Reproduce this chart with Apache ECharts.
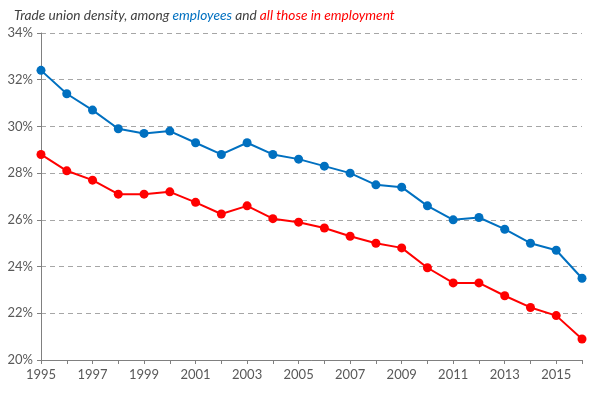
<!DOCTYPE html>
<html lang="en">
<head>
    <meta charset="UTF-8">
    <title>Trade union density</title>
    <script src="https://cdn.jsdelivr.net/npm/echarts@6/dist/echarts.min.js"></script>
    <style>
        * { margin: 0; padding: 0; }
        body { background-color: #fff; }
        #box1 { width: 605px; height: 397px; }
    </style>
</head>
<body>
    <div id="box1"></div>
    <script>
        // data
        var years = ['1995', '1996', '1997', '1998', '1999', '2000', '2001', '2002', '2003', '2004', '2005',
            '2006', '2007', '2008', '2009', '2010', '2011', '2012', '2013', '2014', '2015', '2016'];
        var employees = [32.4, 31.4, 30.7, 29.9, 29.7, 29.8, 29.3, 28.8, 29.3, 28.8, 28.6,
            28.3, 28.0, 27.5, 27.4, 26.6, 26.0, 26.1, 25.6, 25.0, 24.7, 23.5];
        var allEmployed = [28.8, 28.1, 27.7, 27.1, 27.1, 27.2, 26.75, 26.25, 26.6, 26.05, 25.9,
            25.65, 25.3, 25.0, 24.8, 23.95, 23.3, 23.3, 22.75, 22.25, 21.9, 20.9];

        var option = {
            animation: false,
            textStyle: { fontFamily: 'Lato' },
            title: {
                left: 9,
                top: 4,
                text: '{n|Trade union density, among }{b|employees}{n| and }{r|all those in employment}',
                textStyle: {
                    fontWeight: 'normal',
                    rich: {
                        n: { fontFamily: 'Lato', fontStyle: 'italic', fontWeight: 'normal', fontSize: 13.7, color: '#404040' },
                        b: { fontFamily: 'Lato', fontStyle: 'italic', fontWeight: 'normal', fontSize: 13.7, color: '#0070C0' },
                        r: { fontFamily: 'Lato', fontStyle: 'italic', fontWeight: 'normal', fontSize: 13.7, color: '#FF0000' }
                    }
                }
            },
            grid: { left: 41, right: 23, top: 33, bottom: 37 },
            xAxis: {
                type: 'category',
                data: years,
                boundaryGap: false,
                axisLine: { lineStyle: { color: '#808080', width: 1 } },
                axisTick: { interval: 0, length: 4, lineStyle: { color: '#808080' } },
                axisLabel: { interval: 1, color: '#595959', fontSize: 13, margin: 8 }
            },
            yAxis: {
                type: 'value',
                min: 20,
                max: 34,
                interval: 2,
                axisLine: { show: true, lineStyle: { color: '#808080' } },
                axisTick: { show: true, length: 4, lineStyle: { color: '#808080' } },
                axisLabel: { color: '#595959', fontSize: 13, margin: 8, formatter: '{value}%' },
                splitLine: { lineStyle: { color: '#A6A6A6', type: [5, 4] } }
            },
            series: [{
                name: 'employees',
                type: 'line',
                data: employees,
                symbol: 'circle',
                symbolSize: 9,
                itemStyle: { color: '#0070C0' },
                lineStyle: { color: '#0070C0', width: 2 }
            }, {
                name: 'all those in employment',
                type: 'line',
                data: allEmployed,
                symbol: 'circle',
                symbolSize: 9,
                itemStyle: { color: '#FF0000' },
                lineStyle: { color: '#FF0000', width: 2 }
            }]
        };
        echarts.init(document.querySelector('#box1')).setOption(option);
    </script>
</body>
</html>
